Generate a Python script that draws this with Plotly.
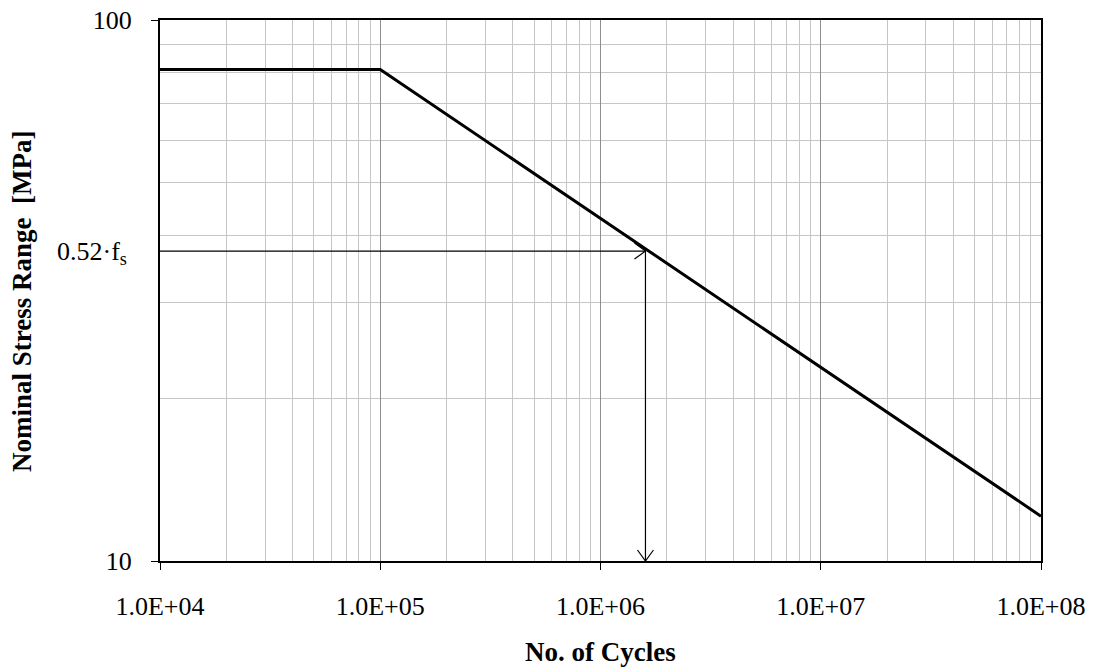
import math
import plotly.graph_objects as go

# ---- data ----
cycles = [1e4, 1e5, 1e8]
stress = [81.0, 81.0, 12.1]

design_cycles = 1.6e6
design_stress = 37.4
design_label = "0.52·f<sub>s</sub>"

x_tick_vals = [1e4, 1e5, 1e6, 1e7, 1e8]
x_tick_text = ["1.0E+04", "1.0E+05", "1.0E+06", "1.0E+07", "1.0E+08"]
y_tick_vals = [10, 100]
y_tick_text = ["10", "100"]

x_minor = [m * 10 ** e for e in range(4, 8) for m in range(2, 10)]
y_minor = [m * 10 for m in range(2, 10)]

FONT = "Liberation Serif"
MINOR_GRID = "#c6c6c6"
MAJOR_GRID = "#8e8e8e"
ARROW_W = 1.2

fig = go.Figure()
fig.add_trace(go.Scatter(
    x=cycles, y=stress, mode="lines",
    line=dict(color="black", width=3),
    showlegend=False, hoverinfo="skip",
))

x_min = x_tick_vals[0]
y_min = y_tick_vals[0]

# arrow shafts (from the y-axis to the curve, then down to the x-axis)
fig.add_trace(go.Scatter(
    x=[x_min, design_cycles], y=[design_stress, design_stress], mode="lines",
    line=dict(color="black", width=ARROW_W), showlegend=False, hoverinfo="skip",
))
fig.add_trace(go.Scatter(
    x=[design_cycles, design_cycles], y=[design_stress, y_min], mode="lines",
    line=dict(color="black", width=ARROW_W), showlegend=False, hoverinfo="skip",
))

# open chevron arrow heads anchored at the arrow tips (pixel-sized)
fig.add_shape(
    type="path", xref="x", yref="y",
    xsizemode="pixel", ysizemode="pixel",
    xanchor=design_cycles, yanchor=design_stress,
    path="M -11 8 L 0 0 L -11 -8",
    line=dict(color="black", width=ARROW_W),
)
fig.add_shape(
    type="path", xref="x", yref="y",
    xsizemode="pixel", ysizemode="pixel",
    xanchor=design_cycles, yanchor=y_min,
    path="M -8 11 L 0 0 L 8 11",
    line=dict(color="black", width=ARROW_W),
)

# design label on y axis
fig.add_annotation(
    x=0, y=math.log10(design_stress), xref="paper", yref="y",
    xanchor="right", yanchor="middle",
    xshift=-31, yshift=-2, text=design_label, showarrow=False,
    font=dict(family=FONT, size=26, color="black"),
)
# axis titles
fig.add_annotation(
    x=0.5, y=0, xref="paper", yref="paper", xanchor="center", yanchor="middle",
    yshift=-91, text="<b>No. of Cycles</b>", showarrow=False,
    font=dict(family=FONT, size=27, color="black"),
)
fig.add_annotation(
    x=0, y=0.4787, xref="paper", yref="paper", xanchor="center", yanchor="middle",
    xshift=-138, text="<b>Nominal Stress Range  [MPa]</b>", showarrow=False,
    textangle=-90, font=dict(family=FONT, size=27, color="black"),
)

fig.update_xaxes(
    type="log", range=[4, 8], automargin=False,
    tickvals=x_tick_vals, ticktext=x_tick_text,
    ticks="outside", ticklen=7, tickwidth=1, tickcolor="black",
    ticklabelstandoff=14,
    showgrid=True, gridcolor=MAJOR_GRID, gridwidth=1,
    minor=dict(tickvals=x_minor, showgrid=True, gridcolor=MINOR_GRID,
               gridwidth=1, ticks=""),
    showline=True, linecolor="black", linewidth=2, mirror=True,
    zeroline=False,
    tickfont=dict(family=FONT, size=26, color="black"),
)
fig.update_yaxes(
    type="log", range=[1, 2], automargin=False,
    tickvals=y_tick_vals, ticktext=y_tick_text,
    ticks="outside", ticklen=7, tickwidth=1, tickcolor="black",
    ticklabelstandoff=14,
    showgrid=False,
    minor=dict(tickvals=y_minor, showgrid=True, gridcolor=MINOR_GRID,
               gridwidth=1, ticks=""),
    showline=True, linecolor="black", linewidth=2, mirror=True,
    zeroline=False,
    tickfont=dict(family=FONT, size=26, color="black"),
)

fig.update_layout(
    width=1094, height=667,
    margin=dict(l=160, r=53, t=20, b=106, autoexpand=False),
    paper_bgcolor="white", plot_bgcolor="white",
    font=dict(family=FONT, color="black"),
    showlegend=False,
)

fig.write_html(
    "out.html",
    config={"displayModeBar": False},
    post_script="document.body.style.margin='0';document.body.style.overflow='hidden';",
)
